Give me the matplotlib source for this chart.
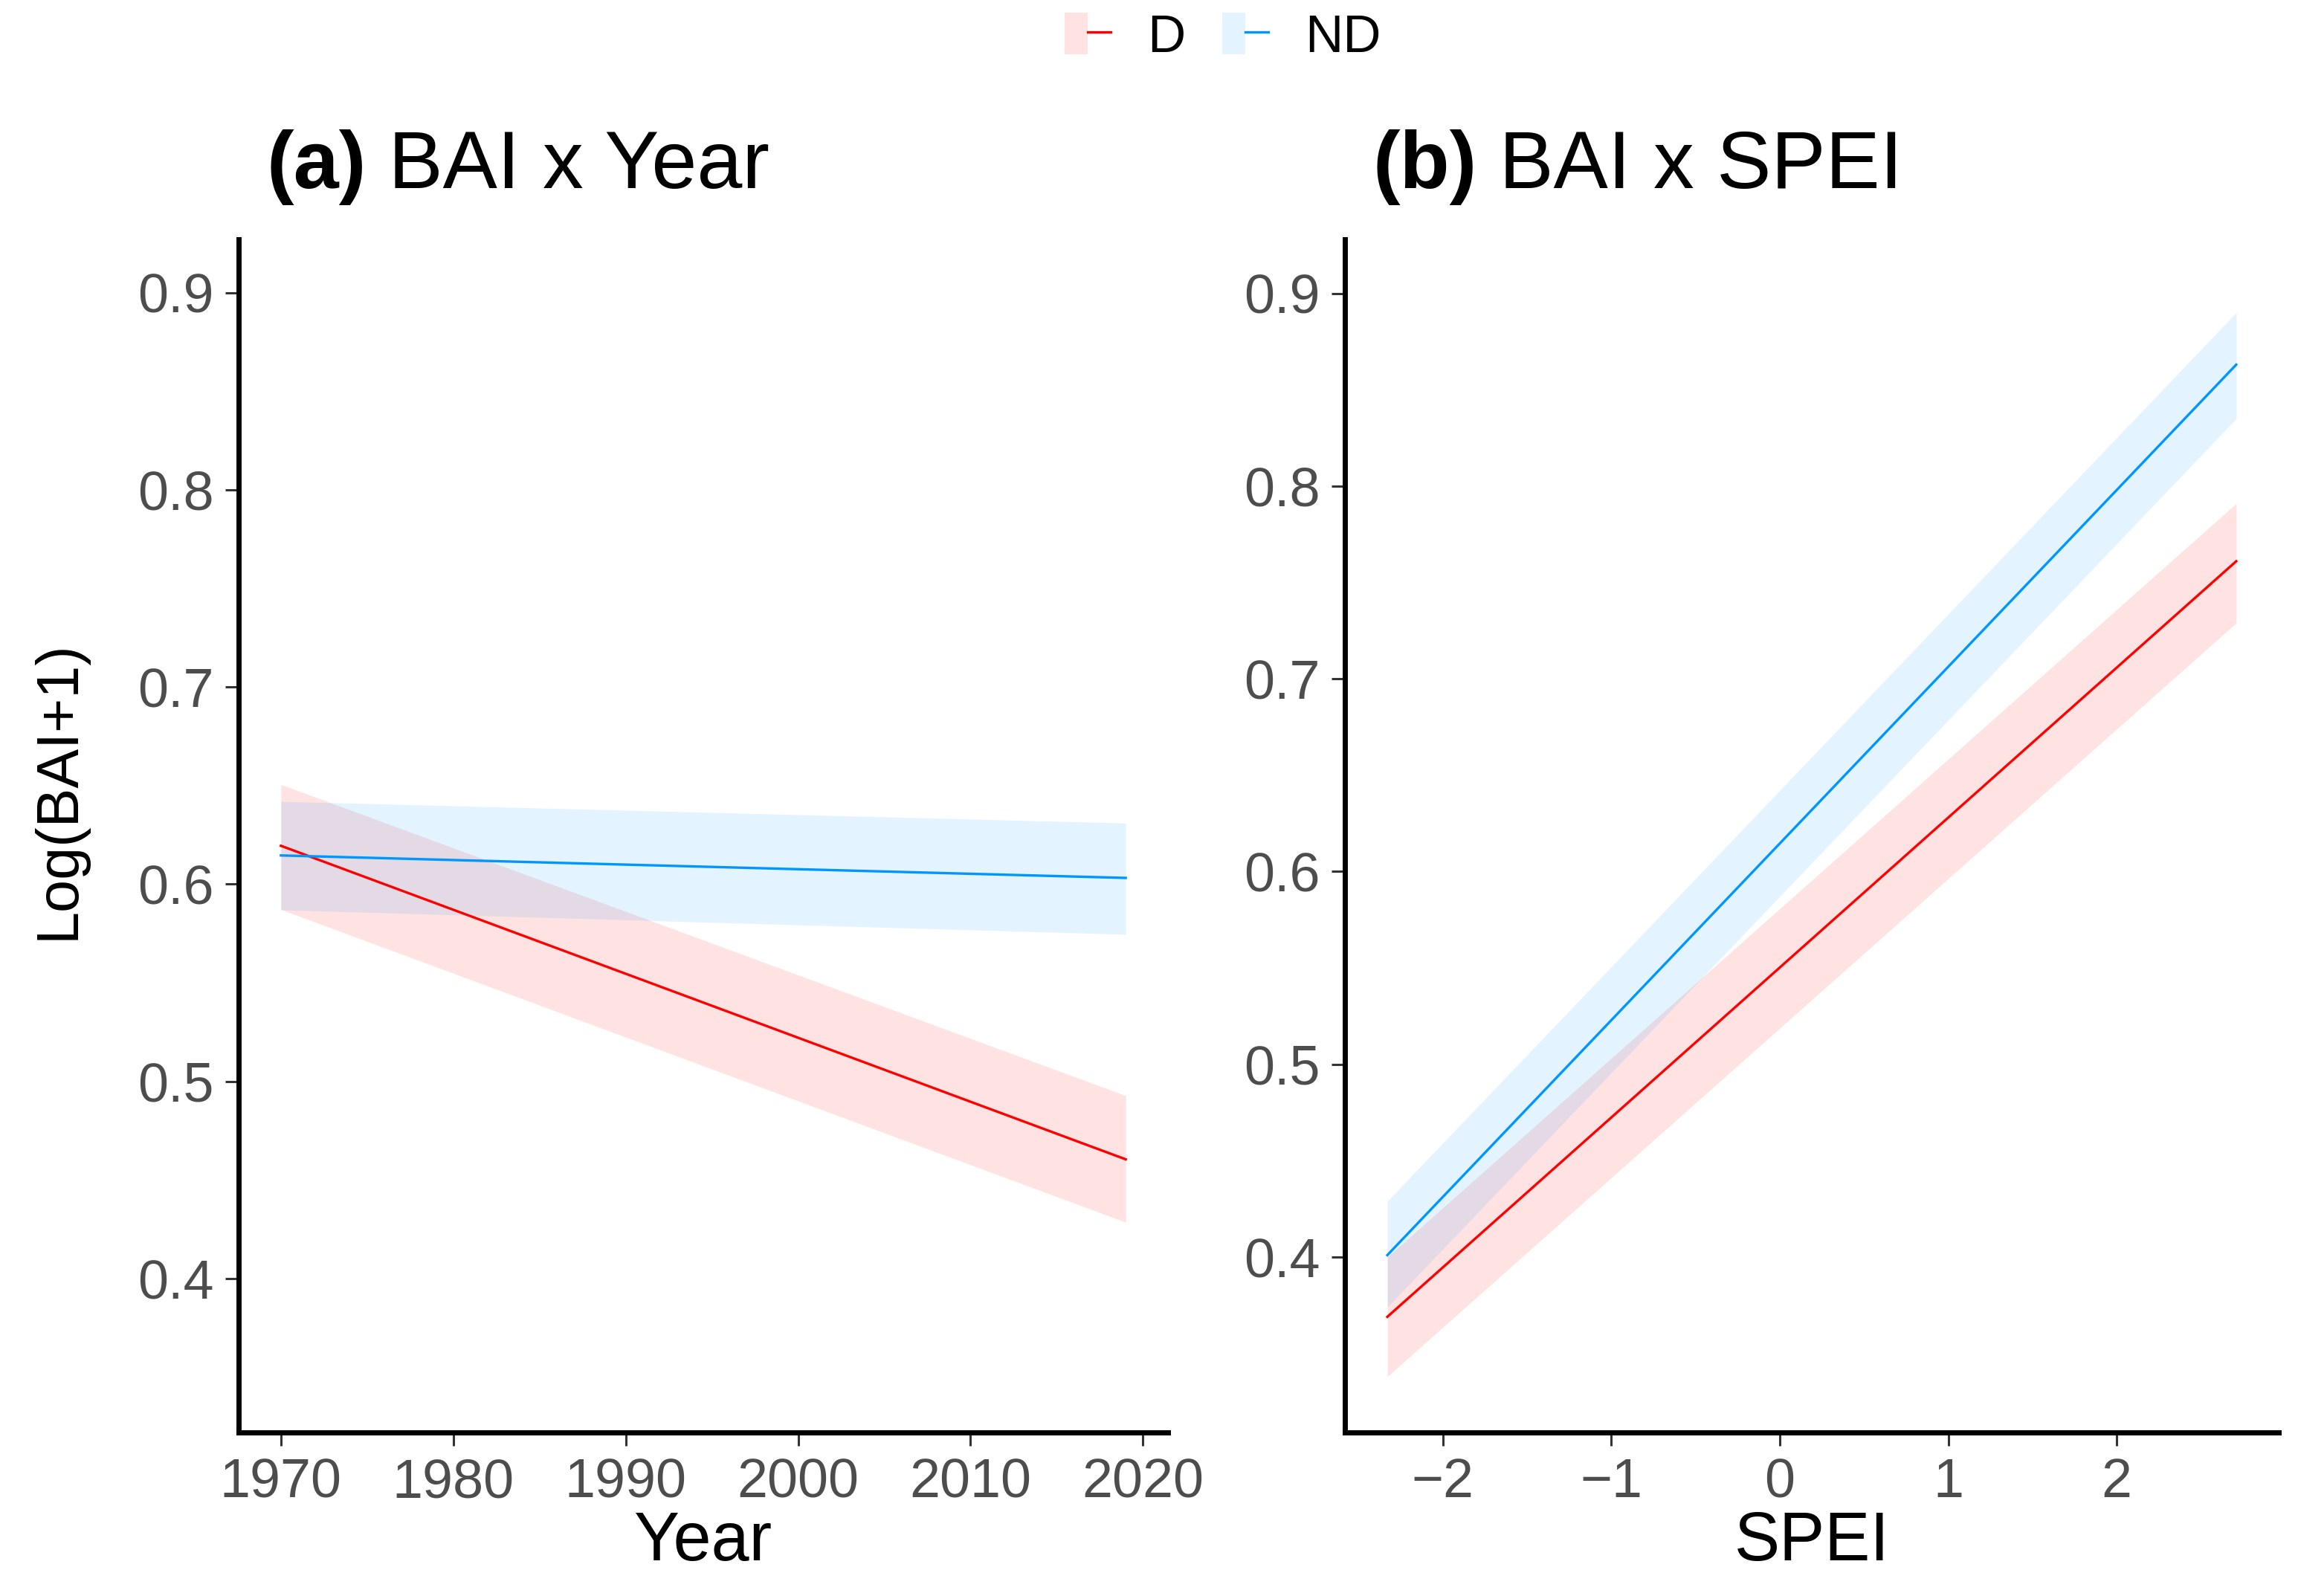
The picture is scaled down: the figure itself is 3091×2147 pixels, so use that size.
import matplotlib
matplotlib.use("Agg")
import matplotlib.pyplot as plt
from matplotlib.patches import Patch
from matplotlib.lines import Line2D
from matplotlib.legend_handler import HandlerTuple

plt.rcParams['font.family'] = ['Liberation Sans', 'DejaVu Sans']

# ---------------- data ----------------
groups = ["D", "ND"]
colors = {"D": "#FF0000", "ND": "#0096FF"}

# Panel (a): BAI x Year
year = [1970, 2019]
year_fit = {"D": [0.6195, 0.4605], "ND": [0.6146, 0.6032]}
year_lo = {"D": [0.5872, 0.4286], "ND": [0.5870, 0.5746]}
year_hi = {"D": [0.6506, 0.4928], "ND": [0.6420, 0.6310]}

# Panel (b): BAI x SPEI
spei = [-2.33, 2.71]
spei_fit = {"D": [0.369, 0.761], "ND": [0.401, 0.863]}
spei_lo = {"D": [0.338, 0.729], "ND": [0.374, 0.835]}
spei_hi = {"D": [0.400, 0.791], "ND": [0.429, 0.890]}

yticks = [0.4, 0.5, 0.6, 0.7, 0.8, 0.9]
year_ticks = [1970, 1980, 1990, 2000, 2010, 2020]
spei_ticks = [-2, -1, 0, 1, 2]

# ---------------- figure ----------------
W, H = 3091, 2147
DPI = 100
fig = plt.figure(figsize=(W / DPI, H / DPI), dpi=DPI)

axA = fig.add_axes([321 / W, 1 - 1927 / H, 1250 / W, 1605 / H])
axB = fig.add_axes([1809 / W, 1 - 1927 / H, 1256 / W, 1605 / H])

def style(ax):
    for s in ["top", "right"]:
        ax.spines[s].set_visible(False)
    for s in ["left", "bottom"]:
        ax.spines[s].set_linewidth(5)
        ax.spines[s].set_color("black")
    ax.tick_params(axis="both", length=13, width=2.2, color="#333333",
                   labelsize=53, labelcolor="#4D4D4D", pad=11)
    ax.set_yticks(yticks)
    ax.set_yticklabels([f"{v:.1f}" for v in yticks])

def panel(ax, x, fit, lo, hi):
    for g in groups:
        ax.fill_between(x, lo[g], hi[g], color=colors[g], alpha=0.11, linewidth=0)
    for g in groups:
        ax.plot(x, fit[g], color=colors[g], linewidth=2.4)

panel(axA, year, year_fit, year_lo, year_hi)
panel(axB, spei, spei_fit, spei_lo, spei_hi)

style(axA)
style(axB)

axA.set_xlim(1967.55, 2021.45)
axA.set_ylim(0.322, 0.927)
axA.set_xticks(year_ticks)
axA.set_xticklabels([str(v) for v in year_ticks])

axB.set_xlim(-2.582, 2.962)
axB.set_ylim(0.309, 0.928)
axB.set_xticks(spei_ticks)
axB.set_xticklabels([str(v).replace("-", "\u2212") for v in spei_ticks])

axA.set_xlabel("Year", fontsize=66, labelpad=2)
axB.set_xlabel("SPEI", fontsize=66, labelpad=2)

fig.text(79 / W, 1 - 1063 / H, "Log(BAI+1)", rotation=90, ha="center",
         va="center", fontsize=57)

# titles: bold tag + regular text
def title(x_px, tag, rest):
    t1 = fig.text(x_px / W, 1 - 253 / H, tag, fontsize=79, fontweight="bold",
                  ha="left", va="baseline")
    fig.canvas.draw()
    bb = t1.get_window_extent()
    fig.text(bb.x1 / W, 1 - 253 / H, " " + rest, fontsize=79,
             ha="left", va="baseline")

title(358, "(a)", "BAI x Year")
title(1846, "(b)", "BAI x SPEI")

# legend
handles = []
for g in groups:
    handles.append((Patch(facecolor=colors[g], alpha=0.11, edgecolor="none"),
                    Line2D([], [], color=colors[g], linewidth=2.4)))
fig.legend(handles, groups, loc="center", bbox_to_anchor=(1645 / W, 1 - 51 / H),
           ncol=2, frameon=False, fontsize=51, handlelength=0.87,
           handleheight=0.83, handletextpad=0.7, columnspacing=0.7,
           handler_map={tuple: HandlerTuple(ndivide=None, pad=0)})

fig.savefig("out.png", dpi=DPI)
